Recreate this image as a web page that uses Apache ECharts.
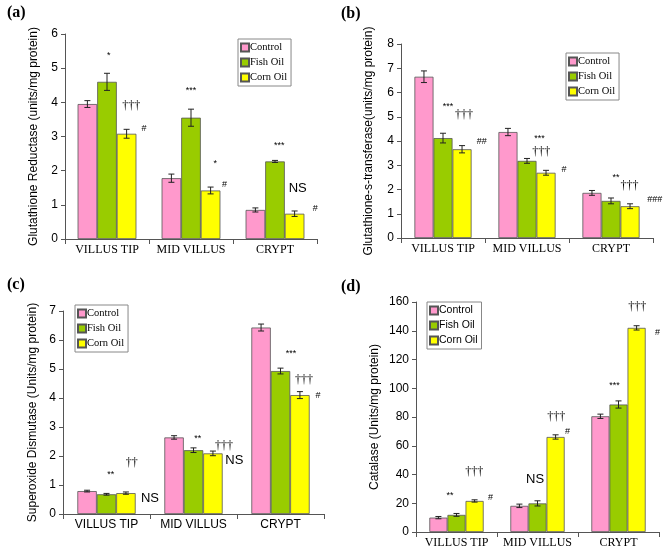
<!DOCTYPE html>
<html>
<head>
<meta charset="utf-8">
<script src="https://cdn.jsdelivr.net/npm/echarts@6/dist/echarts.min.js"></script>
<style>
html,body{margin:0;padding:0;background:#fff;}
#main{width:668px;height:553px;}
</style>
</head>
<body>
<div id="main"></div>
<script>
// categories / groups
var categories = ['VILLUS TIP', 'MID VILLUS', 'CRYPT'];
var groups = ['Control', 'Fish Oil', 'Corn Oil'];
var colors = ['#FF99CC', '#99CC00', '#FFFF00'];

// (a) Glutathione Reductase
var grControl = [3.95, 1.78, 0.85];
var grFish = [4.6, 3.55, 2.27];
var grCorn = [3.08, 1.42, 0.74];
var grControlErr = [0.1, 0.12, 0.06];
var grFishErr = [0.25, 0.25, 0.03];
var grCornErr = [0.13, 0.1, 0.08];
// annotations: text, category, offset (in category widths), y value
var grNoteText = ['*', '†††', '#', '***', '*', '#', '***', 'NS', '#'];
var grNoteCat = [0, 0, 0, 1, 1, 1, 2, 2, 2];
var grNoteDx = [0.02, 0.29, 0.44, 0.0, 0.29, 0.4, 0.05, 0.27, 0.48];
var grNoteY = [5.36, 3.9, 3.24, 4.36, 2.2, 1.6, 2.73, 1.48, 0.9];

// (b) Glutathione-s-transferase
var gstControl = [6.65, 4.37, 1.86];
var gstFish = [4.12, 3.18, 1.53];
var gstCorn = [3.66, 2.69, 1.31];
var gstControlErr = [0.24, 0.15, 0.1];
var gstFishErr = [0.2, 0.1, 0.12];
var gstCornErr = [0.15, 0.1, 0.1];
var gstNoteText = ['***', '†††', '##', '***', '†††', '#', '**', '†††', '###'];
var gstNoteCat = [0, 0, 0, 1, 1, 1, 2, 2, 2];
var gstNoteDx = [0.06, 0.25, 0.46, 0.15, 0.17, 0.44, 0.06, 0.22, 0.52];
var gstNoteY = [5.43, 5.08, 3.98, 4.12, 3.57, 2.84, 2.5, 2.16, 1.57];

// (c) Superoxide Dismutase
var sodControl = [0.79, 2.64, 6.43];
var sodFish = [0.68, 2.2, 4.93];
var sodCorn = [0.72, 2.09, 4.1];
var sodControlErr = [0.03, 0.06, 0.12];
var sodFishErr = [0.03, 0.08, 0.1];
var sodCornErr = [0.04, 0.08, 0.12];
var sodNoteText = ['**', '††', 'NS', '**', '†††', 'NS', '***', '†††', '#'];
var sodNoteCat = [0, 0, 0, 1, 1, 1, 2, 2, 2];
var sodNoteDx = [0.05, 0.29, 0.5, 0.05, 0.35, 0.47, 0.12, 0.27, 0.43];
var sodNoteY = [1.35, 1.75, 0.55, 2.6, 2.36, 1.84, 5.54, 4.62, 4.1];

// (d) Catalase
var catControl = [10, 18.2, 80.5];
var catFish = [11.9, 19.9, 88.7];
var catCorn = [21.6, 66.1, 142];
var catControlErr = [0.8, 1.2, 1.5];
var catFishErr = [1, 1.8, 2.5];
var catCornErr = [0.8, 1.5, 1.5];
var catNoteText = ['**', '†††', '#', 'NS', '†††', '#', '***', '†††', '#'];
var catNoteCat = [0, 0, 0, 1, 1, 1, 2, 2, 2];
var catNoteDx = [-0.08, 0.22, 0.42, -0.03, 0.23, 0.37, -0.05, 0.23, 0.48];
var catNoteY = [25.5, 41.7, 24.3, 36.6, 80, 69.6, 102, 156.5, 139];

var SERIF = '"Liberation Serif", "DejaVu Serif", serif';
var SANS = '"Liberation Sans", Arial, sans-serif';

var panels = [
	{label: '(a)', lx: 7, ly: 5, grid: {left: 65, top: 34, width: 252, height: 205},
		max: 6, interval: 1, name: 'Glutathione Reductase (units/mg protein)', nameGap: 25,
		catFont: SERIF, legendFont: SERIF, legend: {left: 238, top: 39}, gap: '30%',
		vals: [grControl, grFish, grCorn], errs: [grControlErr, grFishErr, grCornErr],
		notes: [grNoteText, grNoteCat, grNoteDx, grNoteY]},
	{label: '(b)', lx: 341, ly: 6, grid: {left: 401, top: 44, width: 252, height: 194},
		max: 8, interval: 1, name: 'Glutathione-s-transferase(units/mg protein)', nameGap: 26,
		catFont: SERIF, legendFont: SERIF, legend: {left: 566, top: 53}, gap: '32%',
		vals: [gstControl, gstFish, gstCorn], errs: [gstControlErr, gstFishErr, gstCornErr],
		notes: [gstNoteText, gstNoteCat, gstNoteDx, gstNoteY]},
	{label: '(c)', lx: 7, ly: 277, grid: {left: 63, top: 311, width: 261, height: 203},
		max: 7, interval: 1, name: 'Superoxide Dismutase (Units/mg protein)', nameGap: 24,
		catFont: SANS, legendFont: SERIF, legend: {left: 75, top: 305}, gap: '33%',
		vals: [sodControl, sodFish, sodCorn], errs: [sodControlErr, sodFishErr, sodCornErr],
		notes: [sodNoteText, sodNoteCat, sodNoteDx, sodNoteY]},
	{label: '(d)', lx: 341, ly: 279, grid: {left: 416, top: 302, width: 243, height: 230},
		max: 160, interval: 20, name: 'Catalase (Units/mg protein)', nameGap: 35,
		catFont: SERIF, legendFont: SANS, legend: {left: 427, top: 302}, gap: '33%',
		vals: [catControl, catFish, catCorn], errs: [catControlErr, catFishErr, catCornErr],
		notes: [catNoteText, catNoteCat, catNoteDx, catNoteY]}
];

var option = {
	animation: false,
	backgroundColor: '#fff',
	title: [], legend: [], grid: [], xAxis: [], yAxis: [], series: []
};

panels.forEach(function (p, pi) {
	option.title.push({
		text: p.label, left: p.lx, top: p.ly, padding: 0,
		textStyle: {fontFamily: SERIF, fontWeight: 'bold', fontSize: 16, color: '#000'}
	});
	option.grid.push(p.grid);
	option.legend.push({
		data: groups, orient: 'vertical', left: p.legend.left, top: p.legend.top,
		itemWidth: 8, itemHeight: 8, itemGap: 4, icon: 'rect',
		padding: [3, 4, 3, 2], borderColor: '#888', borderWidth: 1,
		textStyle: {fontFamily: p.legendFont, fontSize: 10.5, color: '#000', padding: [0, 0, 0, -4]},
		selectedMode: false
	});
	option.xAxis.push({
		type: 'category', gridIndex: pi, data: categories,
		axisLine: {lineStyle: {color: '#555', width: 1}},
		axisTick: {show: true, length: 5, lineStyle: {color: '#555'}},
		axisLabel: {interval: 0, fontFamily: p.catFont, fontSize: 12, color: '#000', margin: 5}
	});
	option.yAxis.push({
		type: 'value', gridIndex: pi, min: 0, max: p.max, interval: p.interval,
		name: p.name, nameLocation: 'middle', nameGap: p.nameGap, nameRotate: 90,
		nameTextStyle: {fontFamily: SANS, fontSize: 12, color: '#000'},
		axisLine: {show: true, lineStyle: {color: '#555', width: 1}},
		axisTick: {show: true, length: 4, lineStyle: {color: '#555'}},
		axisLabel: {fontFamily: SANS, fontSize: 12, color: '#000', margin: 7},
		splitLine: {show: false}
	});

	var gapFrac = parseFloat(p.gap) / 100;

	groups.forEach(function (g, gi) {
		option.series.push({
			type: 'bar', name: g, xAxisIndex: pi, yAxisIndex: pi,
			data: p.vals[gi], barGap: '0%', barCategoryGap: p.gap,
			itemStyle: {color: colors[gi], borderColor: '#555', borderWidth: 0.8}
		});
	});

	// error bars
	var errData = [];
	groups.forEach(function (g, gi) {
		for (var c = 0; c < categories.length; c++) {
			errData.push([c, gi, p.vals[gi][c], p.errs[gi][c]]);
		}
	});
	option.series.push({
		type: 'custom', xAxisIndex: pi, yAxisIndex: pi, silent: true, z: 5,
		data: errData, encode: {x: 0, y: 2},
		renderItem: function (params, api) {
			var c = api.value(0), gi = api.value(1), v = api.value(2), e = api.value(3);
			var bw = api.size([1, 0])[0] * (1 - gapFrac) / 3;
			var top = api.coord([c, v + e]);
			var bot = api.coord([c, v - e]);
			var x = top[0] + (gi - 1) * bw;
			var style = {stroke: '#222', lineWidth: 1};
			return {
				type: 'group',
				children: [
					{type: 'line', shape: {x1: x, y1: top[1], x2: x, y2: bot[1]}, style: style},
					{type: 'line', shape: {x1: x - 3, y1: top[1], x2: x + 3, y2: top[1]}, style: style},
					{type: 'line', shape: {x1: x - 3, y1: bot[1], x2: x + 3, y2: bot[1]}, style: style}
				]
			};
		}
	});

	// significance marks
	var nt = p.notes[0], noteData = [];
	for (var i = 0; i < nt.length; i++) {
		noteData.push([p.notes[1][i], p.notes[2][i], p.notes[3][i]]);
	}
	option.series.push({
		type: 'custom', xAxisIndex: pi, yAxisIndex: pi, silent: true, z: 6,
		data: noteData, encode: {x: 0, y: 2},
		renderItem: function (params, api) {
			var pt = api.coord([api.value(0), api.value(2)]);
			var cw = api.size([1, 0])[0];
			var txt = nt[params.dataIndex];
			var isNS = txt === 'NS';
			var isDag = txt.indexOf('†') >= 0;
			return {
				type: 'text',
				x: pt[0] + api.value(1) * cw, y: pt[1],
				style: {
					text: txt, align: 'center', verticalAlign: 'middle',
					font: (isNS ? '13px ' + SANS : (isDag ? '12px ' + SERIF : '9px ' + SANS)),
					fill: '#000'
				}
			};
		}
	});
});

var chart = echarts.init(document.getElementById('main'));
chart.setOption(option);
</script>
</body>
</html>
